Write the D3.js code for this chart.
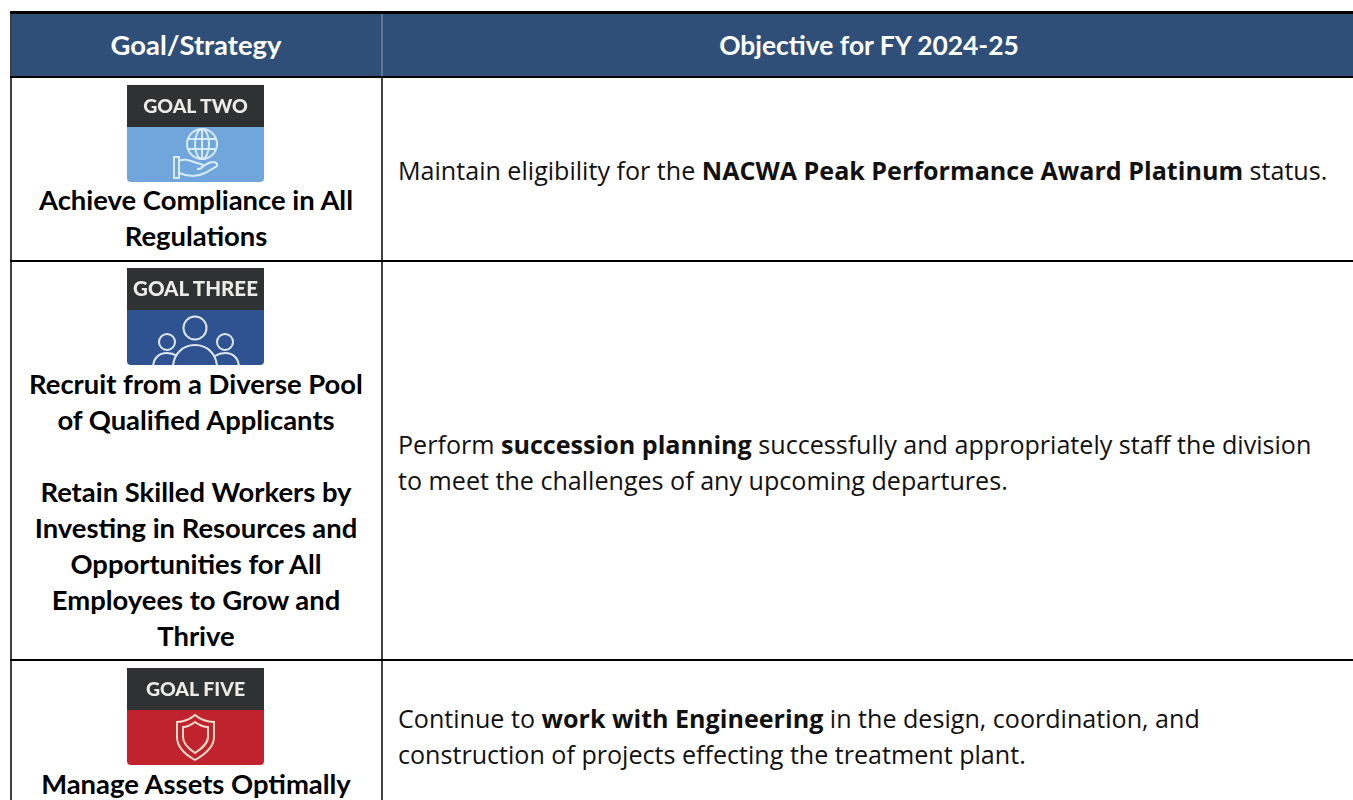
<!DOCTYPE html>
<html>
<head>
<meta charset="utf-8">
<script src="https://d3js.org/d3.v7.min.js"></script>
<style>
  html, body { margin: 0; padding: 0; background: #fff; overflow: hidden; }
  svg { display: block; }
  .left { font-family: Lato, sans-serif; font-weight: 700; }
  .right { font-family: "Open Sans", sans-serif; }
</style>
</head>
<body>
<svg id="chart" width="1353" height="800"></svg>
<script>
var headers = ["Goal/Strategy", "Objective for FY 2024-25"];
var goalLabels = ["GOAL TWO", "GOAL THREE", "GOAL FIVE"];
var goalColors = ["#6fa6dc", "#2f5290", "#c0232f"];
var goalText = [
  ["Achieve Compliance in All", "Regulations"],
  ["Recruit from a Diverse Pool", "of Qualified Applicants", "", "Retain Skilled Workers by", "Investing in Resources and", "Opportunities for All", "Employees to Grow and", "Thrive"],
  ["Manage Assets Optimally"]
];
// each line is a list of [text, bold] runs
var objectives = [
  [[["Maintain eligibility for the ", 0], ["NACWA Peak Performance Award Platinum", 1], [" status.", 0]]],
  [[["Perform ", 0], ["succession planning", 1], [" successfully and appropriately staff the division", 0]],
   [["to meet the challenges of any upcoming departures.", 0]]],
  [[["Continue to ", 0], ["work with Engineering", 1], [" in the design, coordination, and", 0]],
   [["construction of projects effecting the treatment plant.", 0]]]
];

var svg = d3.select("#chart");
var navy = "#304f78";
var colLeft = 12, colRight = 1353;
var leftCenter = 196, rightX = 398;
var lineH = 36;

var defs = svg.append("defs");
defs.append("filter").attr("id", "soft").append("feGaussianBlur").attr("stdDeviation", 0.45);

// header band
svg.append("rect").attr("x", colLeft).attr("y", 14).attr("width", colRight - colLeft).attr("height", 62).attr("fill", navy);
svg.selectAll("text.head").data(headers).enter().append("text")
  .attr("class", "head left")
  .attr("x", function (d, i) { return i ? 869 : leftCenter; })
  .attr("y", 55)
  .attr("text-anchor", "middle")
  .attr("fill", "#fff")
  .style("font-size", function (d, i) { return i ? "26.4px" : "27.4px"; })
  .text(function (d) { return d; });

// grid lines
var hLines = [[11, 14], [76, 78], [260, 262], [659, 661]];
svg.selectAll("rect.hline").data(hLines).enter().append("rect")
  .attr("class", "hline")
  .attr("x", colLeft - 2).attr("width", colRight)
  .attr("y", function (d) { return d[0]; })
  .attr("height", function (d) { return d[1] - d[0]; })
  .attr("fill", "#000");
svg.append("line").attr("x1", 11).attr("x2", 11).attr("y1", 11).attr("y2", 800).attr("stroke", "#000").attr("stroke-width", 1.5);
svg.append("line").attr("x1", 382).attr("x2", 382).attr("y1", 78).attr("y2", 800).attr("stroke", "#000").attr("stroke-width", 1.5);
svg.append("line").attr("x1", 382).attr("x2", 382).attr("y1", 14).attr("y2", 76).attr("stroke", "#8a9ab0").attr("stroke-width", 1);

// goal badges
var badgeY = [85, 268, 668];
var badgeW = 137, badgeH = 97, darkH = 42;
var badges = svg.selectAll("g.badge").data(goalLabels).enter().append("g")
  .attr("class", "badge")
  .attr("filter", "url(#soft)")
  .attr("transform", function (d, i) { return "translate(127," + badgeY[i] + ")"; });

goalLabels.forEach(function (d, i) {
  defs.append("clipPath").attr("id", "clip" + i).append("rect")
    .attr("width", badgeW).attr("height", badgeH).attr("rx", 4);
});
badges.append("rect").attr("width", badgeW).attr("height", badgeH).attr("rx", 4)
  .attr("fill", function (d, i) { return goalColors[i]; });
badges.append("path")
  .attr("d", "M0 " + darkH + "V0H" + badgeW + "V" + darkH + "Z")
  .attr("fill", "#2f3033");
badges.append("text")
  .attr("x", badgeW / 2).attr("y", 28)
  .attr("text-anchor", "middle")
  .attr("fill", "#ecebe8")
  .style("font-family", "Lato, sans-serif").style("font-weight", 900)
  .style("font-size", function (d, i) { return i == 1 ? "20.5px" : "19.5px"; })
  .text(function (d) { return d; });

// badge icons
var icon = badges.append("g").attr("fill", "none").attr("clip-path", function (d, i) { return "url(#clip" + i + ")"; });
icon.each(function (d, i) {
  var g = d3.select(this);
  if (i == 0) {
    g.attr("stroke", "#d8ecf7").attr("stroke-width", 2);
    g.append("circle").attr("cx", 75).attr("cy", 59).attr("r", 15);
    g.append("ellipse").attr("cx", 75).attr("cy", 59).attr("rx", 7).attr("ry", 15);
    g.append("path").attr("d", "M60.5 54H89.5M60.5 64H89.5M75 44V74");
    g.append("path").attr("d", "M47 72V93H52V72ZM52 76C60 72 66 78 74 79C78 80 76 84 70 84M52 88C62 92 70 92 78 88L90 81C91 77 86 76 82 78L74 82");
  } else if (i == 1) {
    g.attr("stroke", "#dfe9f5").attr("stroke-width", 2);
    g.append("circle").attr("cx", 68).attr("cy", 60).attr("r", 11.5);
    g.append("circle").attr("cx", 40).attr("cy", 74).attr("r", 8);
    g.append("circle").attr("cx", 98).attr("cy", 74).attr("r", 8);
    g.append("path").attr("d", "M46 100C46 86 56 77 68 77C80 77 90 86 90 100");
    g.append("path").attr("d", "M26 100C26 90 32 85 40 85C44 85 47 86 50 88M112 100C112 90 106 85 98 85C94 85 91 86 88 88");
  } else {
    g.attr("stroke", "#f5dfcc").attr("stroke-width", 2);
    g.append("path").attr("d", "M68 47C74 52 81 54 87 54V69C87 80 77 87 68 92C59 87 50 80 50 69V54C55 54 62 52 68 47Z");
    g.append("path").attr("d", "M68 54C72 57 76 59 81 59V69C81 76 74 81 68 85C62 81 56 76 56 69V59C60 59 64 57 68 54Z");
  }
});

// left column text
var leftBase = [210, 394, 794];
goalText.forEach(function (lines, i) {
  svg.selectAll("text.g" + i).data(lines).enter().append("text")
    .attr("class", "left g" + i)
    .attr("x", leftCenter)
    .attr("y", function (d, j) { return leftBase[i] + j * lineH; })
    .attr("text-anchor", "middle")
    .attr("fill", "#000")
    .style("font-size", "27.4px")
    .text(function (d) { return d; });
});

// right column text
var rightBase = [179.5, 453.5, 727.5];
objectives.forEach(function (lines, i) {
  var t = svg.selectAll("text.o" + i).data(lines).enter().append("text")
    .attr("class", "right o" + i)
    .attr("x", rightX)
    .attr("y", function (d, j) { return rightBase[i] + j * lineH; })
    .attr("fill", "#111")
    .style("font-size", "25.1px");
  t.selectAll("tspan").data(function (d) { return d; }).enter().append("tspan")
    .attr("font-weight", function (d) { return d[1] ? 700 : 400; })
    .text(function (d) { return d[0]; });
});
</script>
</body>
</html>
